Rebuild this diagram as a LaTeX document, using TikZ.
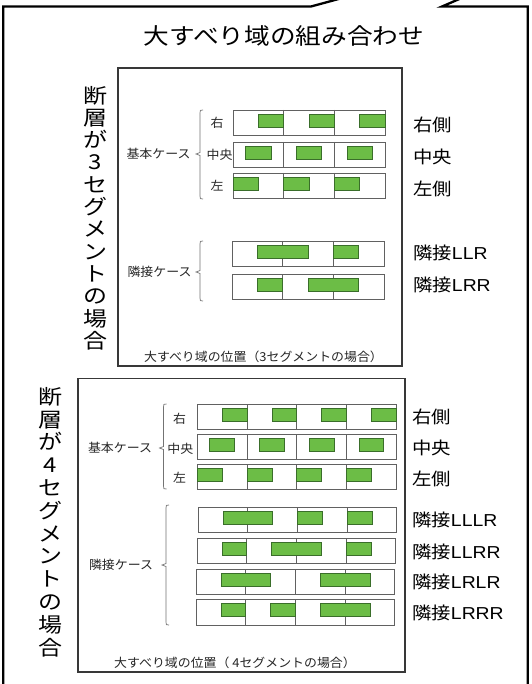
\documentclass[tikz,border=0pt]{standalone}
\usepackage{fontspec}
\setmainfont{Noto Sans CJK JP}
\newfontfamily\latf{Liberation Sans}
\definecolor{grn}{RGB}{108,189,70}
\definecolor{grndark}{RGB}{58,110,42}
\newcommand\stripbox[4]{% x0, y0, half-width, segments
  \draw[stripst] (#1,#2) rectangle ({#1+2*#3*#4},{#2+25.5});
  \pgfmathtruncatemacro\nm{#4-1}
  \foreach \k in {1,...,\nm}{\draw[stripst] ({#1+2*#3*\k},#2) -- ({#1+2*#3*\k},{#2+25.5});}
}
\newcommand\grn[5]{% x0, y0, half-width, start(half units), length(half units)
  \draw[gst] ({#1+#4*#3},{#2+4}) rectangle ({#1+(#4+#5)*#3},{#2+17});
}
\newcommand\brc[4]{% x, top, mid, bottom
  \draw[brcst] ({#1+3},#2) .. controls (#1,#2) .. ({#1},{#2+3}) -- (#1,{#3-1.5}) -- ({#1-4},#3) -- (#1,{#3+1.5}) -- (#1,{#4-3}) .. controls (#1,#4) .. ({#1+3},#4);
}
\begin{document}
\begin{tikzpicture}[x=1pt,y=-1pt,
  outer/.style={line width=2.3pt,draw=black},
  panel/.style={line width=1.6pt,draw=black!78},
  stripst/.style={draw=black!62,line width=0.8pt},
  gst/.style={fill=grn,draw=grndark,line width=0.7pt},
  brcst/.style={draw=black!55,line width=0.7pt},
  small/.style={font=\fontsize{12.3}{13}\selectfont,text=black!85,inner sep=0pt,xscale=1.05},
  big/.style={font=\fontsize{17.3}{18}\selectfont,anchor=west,inner sep=0pt,xscale=1.12},
  vert/.style={align=center,inner sep=0pt,xscale=1.17},
  ttl/.style={font=\fontsize{22.5}{24}\selectfont,inner sep=0pt,xscale=1.14}]
\useasboundingbox (0,0) rectangle (531,684);
\clip (0,0) rectangle (531,684);
\fill[white] (0,0) rectangle (531,684);
% outer callout border
\draw[outer] (346,-3) -- (311,6.5) -- (3.2,6.5) -- (3.2,690);
\draw[outer] (464,-3) -- (442,6.5) -- (527.8,6.5) -- (527.8,690);
\node[ttl] (title) at (284,35.5) {大すべり域の組み合わせ};
% vertical texts
\node[vert,font=\fontsize{20.5}{22.3}\selectfont] (v1) at (95,218) {断\\層\\が\\3\\セ\\グ\\メ\\ン\\ト\\の\\場\\合};
\node[vert,font=\fontsize{20.5}{22.8}\selectfont] (v2) at (50,522) {断\\層\\が\\4\\セ\\グ\\メ\\ン\\ト\\の\\場\\合};
% panel 1
\draw[panel] (118,68) rectangle (402,366);
\def\ha{25.35}
\stripbox{233}{110}{\ha}{3}
\stripbox{233}{142}{\ha}{3}
\stripbox{233}{173}{\ha}{3}
\stripbox{232}{241}{\ha}{3}
\stripbox{232}{274}{\ha}{3}
\foreach \a in {1,3,5}{\grn{233}{110}{\ha}{\a}{1}}
\foreach \a in {0.5,2.5,4.5}{\grn{233}{142}{\ha}{\a}{1}}
\foreach \a in {0,2,4}{\grn{233}{173}{\ha}{\a}{1}}
\grn{232}{241}{\ha}{1}{2}\grn{232}{241}{\ha}{4}{1}
\grn{232}{274}{\ha}{1}{1}\grn{232}{274}{\ha}{3}{2}
\brc{200}{110}{154}{199}
\brc{200}{241}{272}{301}
\node[small] (p1base) at (158.5,154) {基本ケース};
\node[small] (p1r) at (217,123) {右};
\node[small] (p1c) at (219.5,154.5) {中央};
\node[small] (p1l) at (217,186) {左};
\node[small] (p1adj) at (159.5,272) {隣接ケース};
\node[small] (p1cap) at (263.5,357) {大すべり域の位置（3セグメントの場合）};
% panel 2
\draw[panel] (78,378.5) rectangle (405,672);
\def\hb{24.85}
\stripbox{197.4}{404}{\hb}{4}
\stripbox{197.4}{434}{\hb}{4}
\stripbox{197.4}{464}{\hb}{4}
\stripbox{198}{507}{\hb}{4}
\stripbox{197}{538}{\hb}{4}
\stripbox{196}{569}{\hb}{4}
\stripbox{196}{599.5}{\hb}{4}
\foreach \a in {1,3,5,7}{\grn{197.4}{404}{\hb}{\a}{1}}
\foreach \a in {0.5,2.5,4.5,6.5}{\grn{197.4}{434}{\hb}{\a}{1}}
\foreach \a in {0,2,4,6}{\grn{197.4}{464}{\hb}{\a}{1}}
\grn{198}{507}{\hb}{1}{2}\grn{198}{507}{\hb}{4}{1}\grn{198}{507}{\hb}{6}{1}
\grn{197}{538}{\hb}{1}{1}\grn{197}{538}{\hb}{3}{2}\grn{197}{538}{\hb}{6}{1}
\grn{196}{569}{\hb}{1}{2}\grn{196}{569}{\hb}{5}{2}
\grn{196}{599.5}{\hb}{1}{1}\grn{196}{599.5}{\hb}{3}{1}\grn{196}{599.5}{\hb}{5}{2}
\brc{163.5}{404}{448}{489}
\brc{166}{505}{565}{625}
\node[small] (p2base) at (120,448) {基本ケース};
\node[small] (p2r) at (179.5,419) {右};
\node[small] (p2c) at (180.4,448.5) {中央};
\node[small] (p2l) at (179.5,478) {左};
\node[small] (p2adj) at (121,565) {隣接ケース};
\node[small] (p2cap) at (235,663) {大すべり域の位置（ 4セグメントの場合）};
% right labels
\node[big] (r1a) at (413,125) {右側};
\node[big] (r1b) at (413,157) {中央};
\node[big] (r1c) at (413,189) {左側};
\node[big] (r1d) at (413,253) {隣接{\latf LLR}};
\node[big] (r1e) at (413,285) {隣接{\latf LRR}};
\node[big] (r2a) at (412,417) {右側};
\node[big] (r2b) at (412,448) {中央};
\node[big] (r2c) at (412,479) {左側};
\node[big] (r2d) at (412,520) {隣接{\latf LLLR}};
\node[big] (r2e) at (412,551.5) {隣接{\latf LLRR}};
\node[big] (r2f) at (412,582) {隣接{\latf LRLR}};
\node[big] (r2g) at (412,613) {隣接{\latf LRRR}};
\end{tikzpicture}
\end{document}
